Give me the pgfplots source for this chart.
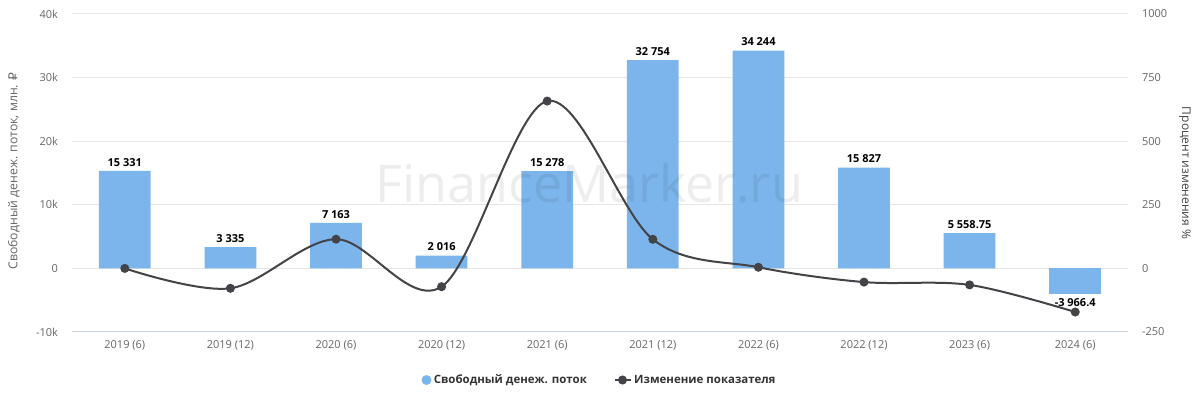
\documentclass[border=0pt]{standalone}
\usepackage{fontspec}
\setmainfont{Open Sans}
\newfontfamily\dejavu{DejaVu Sans}
\usepackage{pgfplots}
\usepackage{pgfplotstable}
\pgfplotsset{compat=1.18}
\definecolor{barblue}{HTML}{7CB5EC}
\definecolor{linegray}{HTML}{434348}
\definecolor{gridc}{HTML}{E6E6E6}
\definecolor{axisc}{HTML}{CCD6EB}
\definecolor{tickc}{HTML}{666666}
\definecolor{labc}{HTML}{444444}

\pgfplotstableread[col sep=comma]{
x,y,lab
0,15331,15 331
1,3335,3 335
2,7163,7 163
3,2016,2 016
4,15278,15 278
5,32754,32 754
6,34244,34 244
7,15827,15 827
8,5558.75,5 558.75
9,-3966.4,-3 966.4
}\bardata

\pgfplotstableread{
x y
0 0
1 -78.2
2 114.8
3 -71.9
4 657.8
5 114.4
6 4.5
7 -53.8
8 -64.9
9 -171.4
}\linedata

\pgfplotsset{
  shortlegend/.style={legend image code/.code={\draw[##1, mark repeat=2, mark phase=2] plot coordinates {(0pt,0pt) (6pt,0pt) (12pt,0pt)};}},
}

\begin{document}
\begin{tikzpicture}
\pgfplotsset{
  common/.style={
    scale only axis, width=792pt, height=238.5pt,
    xmin=-0.5, xmax=9.5,
    major tick length=0pt,
    scaled y ticks=false,
    every tick label/.append style={font=\fontsize{8.25}{10}\selectfont, text=tickc},
  },
  barplot/.style={ybar, bar width=0.49, bar shift=0pt, fill=barblue, draw=none,
    nodes near coords, point meta=explicit symbolic},
}
\begin{axis}[common,
  ymin=-10000, ymax=40000,
  ytick={-10000,0,10000,20000,30000,40000},
  yticklabels={-10k,0,10k,20k,30k,40k},
  xtick={0,...,9},
  xticklabels={2019 (6),2019 (12),2020 (6),2020 (12),2021 (6),2021 (12),2022 (6),2022 (12),2023 (6),2024 (6)},
  axis x line*=bottom, axis y line*=left,
  x axis line style={draw=axisc, line width=0.75pt},
  y axis line style={draw=none},
  ymajorgrids, grid style={draw=gridc, line width=0.75pt},
  xticklabel style={yshift=-3pt},
  yticklabel style={xshift=-7pt},
  ylabel={Свободный денеж. поток, млн. {\dejavu ₽}},
  ylabel style={at={(axis description cs:-0.055,0.506)}, anchor=center, rotate=0, font=\fontsize{9.2}{11}\selectfont, text=tickc},
]
\addplot[barplot, restrict y to domain=0:50000,
  nodes near coords style={font=\bfseries\fontsize{8.25}{10}\selectfont, text=black, anchor=south}]
  table[x=x, y=y, meta=lab]{\bardata};
\addplot[barplot, restrict y to domain=-20000:-0.001,
  nodes near coords style={font=\bfseries\fontsize{8.25}{10}\selectfont, text=black, anchor=north}]
  table[x=x, y=y, meta=lab]{\bardata};
\end{axis}
\begin{axis}[common,
  ymin=-250, ymax=1000,
  ytick={-250,0,250,500,750,1000},
  yticklabels={-250,0,250,500,750,1000},
  axis y line*=right, axis x line=none,
  y axis line style={draw=none},
  yticklabel style={xshift=7pt},
  ylabel={Процент изменения \%},
  ylabel style={at={(axis description cs:1.054,0.5)}, anchor=center, rotate=180, font=\fontsize{9}{11}\selectfont, text=labc},
  legend style={at={(axis description cs:0.5,-0.151)}, anchor=center, draw=none, fill=none,
    font=\bfseries\fontsize{8.6}{11}\selectfont, text=black!80,
    /tikz/every even column/.append style={column sep=18pt}},
  legend columns=2,
]
\addlegendimage{only marks, mark=*, mark size=3.5pt, mark options={fill=barblue, draw=barblue}}
\addlegendentry{Свободный денеж. поток}
\addplot[linegray, line width=1.5pt, smooth, tension=0.55, mark=*, mark size=2.6pt, mark options={fill=linegray, draw=linegray}, shortlegend]
  table[x=x, y=y]{\linedata};
\addlegendentry{Изменение показателя}
\node[anchor=base, font=\fontsize{39}{42}\selectfont, text=black, opacity=0.07] at (axis description cs:0.49,0.406) {FinanceMarker.ru};
\end{axis}
\pgfresetboundingbox
\useasboundingbox (-54pt,-47.25pt) rectangle ++(900pt,296.25pt);
\end{tikzpicture}
\end{document}
